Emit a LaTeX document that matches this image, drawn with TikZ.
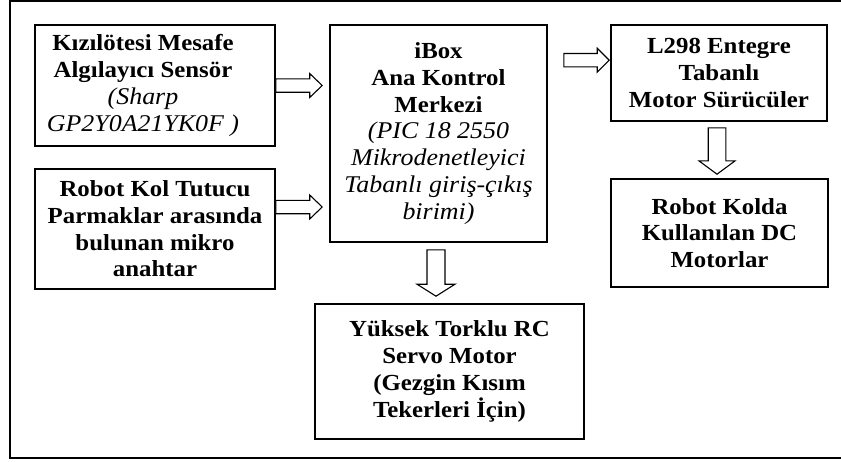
\documentclass[tikz,border=0pt]{standalone}
\usepackage{fontspec}
\setmainfont[FakeStretch=1.08]{Liberation Serif}
\usetikzlibrary{calc}

\newcommand{\italnote}[1]{{\fontsize{24}{26.7}\selectfont\mdseries\itshape #1}}

% hollow block arrow: start, tip, shaft half width, head half width, head length
\newcommand{\blockarrow}[5]{%
  \coordinate (base) at ($(#2)!#5!(#1)$);
  \draw[arrowline] ($(#1)!#3!90:(#2)$) -- ($(base)!#3!-90:(#1)$) -- ($(base)!#4!-90:(#1)$) -- (#2)
    -- ($(base)!#4!90:(#1)$) -- ($(base)!#3!90:(#1)$) -- ($(#1)!#3!-90:(#2)$) -- cycle;}

\tikzset{
  box/.style={draw, line width=1.6pt, align=center, inner sep=0pt,
    font=\fontsize{23}{26.7}\selectfont\bfseries},
  boxtext/.style={align=center, inner sep=0pt,
    font=\fontsize{23}{26.7}\selectfont\bfseries},
  arrowline/.style={line width=1.1pt, fill=white, line join=miter},
}

\begin{document}
\begin{tikzpicture}[x=1pt,y=-1pt]

\useasboundingbox (0,0) rectangle (841,461);
\clip (0,0) rectangle (841,461);

% outer frame
\draw[line width=1.6pt] (10,1) rectangle (860,458);

\node[box, minimum width=240pt, minimum height=121pt] (sensor) at (155,85.5) {};
\node[boxtext] (sensortext) at ($(sensor)+(-12,0)$)
  {Kızılötesi Mesafe\\Algılayıcı Sensör\\\italnote{(Sharp}\\\italnote{GP2Y0A21YK0F )}};
\node[box, minimum width=240pt, minimum height=120pt] (gripper) at (155,229)
  {Robot Kol Tutucu\\Parmaklar arasında\\bulunan mikro\\anahtar};
\node[box, minimum width=217pt, minimum height=217pt] (ibox) at (438.5,133.5)
  {iBox\\Ana Kontrol\\Merkezi\\\italnote{(PIC 18 2550}\\\italnote{Mikrodenetleyici}\\\italnote{Tabanlı giriş-çıkış}\\\italnote{birimi)}};
\node[box, minimum width=216pt, minimum height=96pt] (driver) at (719,73)
  {L298 Entegre\\Tabanlı\\Motor Sürücüler};
\node[box, minimum width=217pt, minimum height=108pt] (dcmotor) at (719.5,233)
  {Robot Kolda\\Kullanılan DC\\Motorlar};
\node[box, minimum width=269pt, minimum height=135pt] (servo) at (449.5,371.5)
  {Yüksek Torklu RC\\Servo Motor\\(Gezgin Kısım\\Tekerleri İçin)};

% arrows
\coordinate (a1s) at (sensor.east);
\coordinate (a1e) at ($(ibox.west |- sensor.east)+(-7,0)$);
\coordinate (a2s) at ($(gripper.east)+(0,-22)$);
\coordinate (a2e) at ($(ibox.west |- a2s)+(-7,0)$);
\coordinate (a3s) at ($(ibox.north east)+(16,36)$);
\coordinate (a3e) at ($(a3s -| driver.west)+(-1,0)$);
\coordinate (a4s) at ($(driver.south)+(-2,6)$);
\coordinate (a4e) at ($(a4s |- dcmotor.north)+(0,-4)$);
\coordinate (a5s) at ($(ibox.south)+(-2.5,7)$);
\coordinate (a5e) at ($(a5s |- servo.north)+(0,-7)$);

\blockarrow{a1s}{a1e}{6.7pt}{12pt}{12.5pt}
\blockarrow{a2s}{a2e}{6.7pt}{12pt}{12.5pt}
\blockarrow{a3s}{a3e}{6.7pt}{12pt}{12pt}
\blockarrow{a4s}{a4e}{8.8pt}{18pt}{13.3pt}
\blockarrow{a5s}{a5e}{9pt}{19pt}{12pt}

\end{tikzpicture}
\end{document}
